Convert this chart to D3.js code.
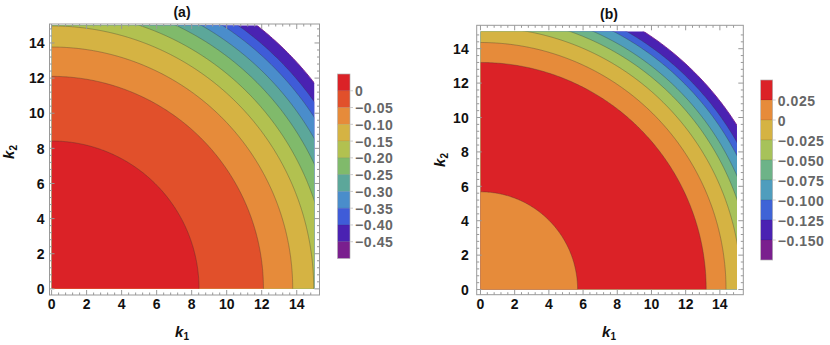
<!DOCTYPE html>
<meta charset="utf-8">
<style>
body { margin: 0; background: #fff; }
svg text { font-family: "Liberation Sans", Arial, sans-serif; font-weight: bold; }
.tick-label { font-size: 14px; fill: #111; }
.leg-label { font-size: 14px; fill: #666; letter-spacing: 0.6px; }
.title { font-size: 14px; fill: #111; }
</style>
<svg width="830" height="345"></svg>
<script src="https://d3js.org/d3.v7.min.js"></script>
<script>

// ---- data ----
var tickValues = [0, 2, 4, 6, 8, 10, 12, 14];

// panel (a): legend levels, cell colours, outer radius of every band (k units) and its legend cell
var levelsA = ["0", "\u22120.05", "\u22120.10", "\u22120.15", "\u22120.20", "\u22120.25", "\u22120.30", "\u22120.35", "\u22120.40", "\u22120.45"];
var colorsA = ["#db2227", "#e1502b", "#e68b3a", "#d5b343", "#b2c150", "#80ba6b", "#5ca79a", "#4a8dcb", "#3f5cd8", "#4a22b2", "#7a1f8e"];
var bandOuterA = [8.42, 12.1, 13.77, 14.97, 15.82, 16.6, 17.27, 17.9, 18.4, 19.04];
var bandCellA = [0, 1, 2, 3, 4, 5, 6, 7, 8, 9];

// panel (b)
var levelsB = ["0.025", "0", "\u22120.025", "\u22120.050", "\u22120.075", "\u22120.100", "\u22120.125", "\u22120.150"];
var colorsB = ["#db2227", "#e68b3a", "#d5b343", "#a7c25a", "#6db388", "#4f9dbd", "#3f63d6", "#4a22b2", "#7a1f8e"];
var bandOuterB = [5.68, 13.2, 14.36, 15.25, 15.89, 16.39, 16.9, 17.27, 17.78];
var bandCellB = [1, 0, 1, 2, 3, 4, 5, 6, 7];

var svg = d3.select("svg");

function arcPoints(r) {
  return d3.range(0, 181).map(function(a) {
    var t = a / 2 * Math.PI / 180;
    return [r * Math.cos(t), r * Math.sin(t)];
  });
}

function drawPanel(p) {
  var x = p.x, y = p.y;
  var g = svg.append("g");
  var line = d3.line().x(function(d) { return x(d[0]); }).y(function(d) { return y(d[1]); });

  g.append("clipPath").attr("id", "clip" + p.id)
    .append("rect")
    .attr("x", x(0)).attr("y", y(15))
    .attr("width", x(15) - x(0)).attr("height", y(0) - y(15));

  var plot = g.append("g").attr("clip-path", "url(#clip" + p.id + ")");

  // filled bands, painted from the outside in
  for (var i = p.outer.length - 1; i >= 0; i--) {
    plot.append("path")
      .attr("d", line([[0, 0]].concat(arcPoints(p.outer[i]))) + "Z")
      .attr("fill", p.colors[p.cells[i]]);
  }
  // contour lines
  p.outer.forEach(function(r, i) {
    var last = i == p.outer.length - 1;
    plot.append("path")
      .attr("d", line(arcPoints(r)))
      .attr("fill", "none")
      .attr("stroke", last ? p.colors[p.colors.length - 1] : "#333")
      .attr("stroke-opacity", last ? 0.9 : 0.4)
      .attr("stroke-width", last ? 1 : 0.8);
  });

  // frame
  var x0 = x.range()[0], x1 = x.range()[1], y0 = y.range()[0], y1 = y.range()[1];
  g.append("rect")
    .attr("x", x0).attr("y", y1).attr("width", x1 - x0).attr("height", y0 - y1)
    .attr("fill", "none").attr("stroke", "#999").attr("stroke-width", 1);

  var minor = d3.range(0, 15.01, 0.4);
  minor.forEach(function(v) {
    var major = Math.abs(v / 2 - Math.round(v / 2)) < 1e-6;
    var len = major ? 5 : 2.5;
    g.append("line").attr("x1", x(v)).attr("x2", x(v)).attr("y1", y0).attr("y2", y0 - len).attr("stroke", "#999");
    g.append("line").attr("x1", x(v)).attr("x2", x(v)).attr("y1", y1).attr("y2", y1 + len).attr("stroke", "#999");
    g.append("line").attr("y1", y(v)).attr("y2", y(v)).attr("x1", x0).attr("x2", x0 + len).attr("stroke", "#999");
    g.append("line").attr("y1", y(v)).attr("y2", y(v)).attr("x1", x1).attr("x2", x1 - len).attr("stroke", "#999");
  });

  g.selectAll(".xt").data(tickValues).enter().append("text")
    .attr("class", "tick-label")
    .attr("x", function(d) { return x(d); })
    .attr("y", 308.5)
    .attr("text-anchor", "middle")
    .text(function(d) { return d; });

  g.selectAll(".yt").data(tickValues).enter().append("text")
    .attr("class", "tick-label")
    .attr("x", x0 - p.ylabGap)
    .attr("y", function(d) { return y(d) + 5.2; })
    .attr("text-anchor", "end")
    .text(function(d) { return d; });

  // titles and axis labels
  g.append("text").attr("class", "title")
    .attr("x", p.titleX).attr("y", p.titleY).attr("text-anchor", "middle").text(p.title);

  var xl = g.append("text").attr("class", "title")
    .attr("x", p.titleX).attr("y", 337).attr("text-anchor", "middle");
  xl.append("tspan").attr("font-style", "italic").attr("font-size", "15px").text("k");
  xl.append("tspan").attr("font-size", "10px").attr("dy", 3).text("1");

  var yl = g.append("text").attr("class", "title")
    .attr("transform", "translate(" + p.ylabX + "," + p.ylabY + ") rotate(-90)")
    .attr("text-anchor", "middle");
  yl.append("tspan").attr("font-style", "italic").attr("font-size", "15px").text("k");
  yl.append("tspan").attr("font-size", "10px").attr("dy", 3).text("2");

  // legend
  var ly = d3.scaleLinear().domain([0, p.colors.length]).range([p.legTop, p.legBottom]);
  var lg = g.append("g");
  lg.selectAll("rect").data(p.colors).enter().append("rect")
    .attr("x", p.legX).attr("y", function(d, i) { return ly(i); })
    .attr("width", p.legW).attr("height", function(d, i) { return ly(i + 1) - ly(i); })
    .attr("fill", function(d) { return d; })
    .attr("stroke", "rgba(0,0,0,0.12)").attr("stroke-width", 0.6);
  lg.append("rect")
    .attr("x", p.legX).attr("y", ly(0)).attr("width", p.legW).attr("height", ly(p.colors.length) - ly(0))
    .attr("fill", "none").attr("stroke", "#bbb").attr("stroke-width", 0.6);
  lg.selectAll(".lt").data(p.levels).enter().append("line")
    .attr("x1", p.legX + p.legW).attr("x2", p.legX + p.legW + 3)
    .attr("y1", function(d, i) { return ly(i + 1); }).attr("y2", function(d, i) { return ly(i + 1); })
    .attr("stroke", "#ccc");
  lg.selectAll("text").data(p.levels).enter().append("text")
    .attr("class", "leg-label")
    .attr("x", p.legX + p.legW + 5)
    .attr("y", function(d, i) { return ly(i + 1) + 5.5; })
    .text(function(d) { return d; });
}

drawPanel({
  id: "a", title: "(a)",
  x: d3.scaleLinear().domain([-0.12, 15.3]).range([49.5, 319.5]),
  y: d3.scaleLinear().domain([-0.35, 15.08]).range([295, 24]),
  outer: bandOuterA, cells: bandCellA, colors: colorsA, levels: levelsA,
  titleX: 182, titleY: 17, ylabX: 14, ylabY: 152, ylabGap: 5,
  legX: 337.5, legW: 12.5, legTop: 74, legBottom: 258.5
});

drawPanel({
  id: "b", title: "(b)",
  x: d3.scaleLinear().domain([-0.22, 15.37]).range([476.7, 743.3]),
  y: d3.scaleLinear().domain([-0.3, 15.36]).range([294.7, 25.3]),
  outer: bandOuterB, cells: bandCellB, colors: colorsB, levels: levelsB,
  titleX: 609, titleY: 19, ylabX: 445, ylabY: 160, ylabGap: 8,
  legX: 760.7, legW: 12, legTop: 80, legBottom: 260
});

</script>
